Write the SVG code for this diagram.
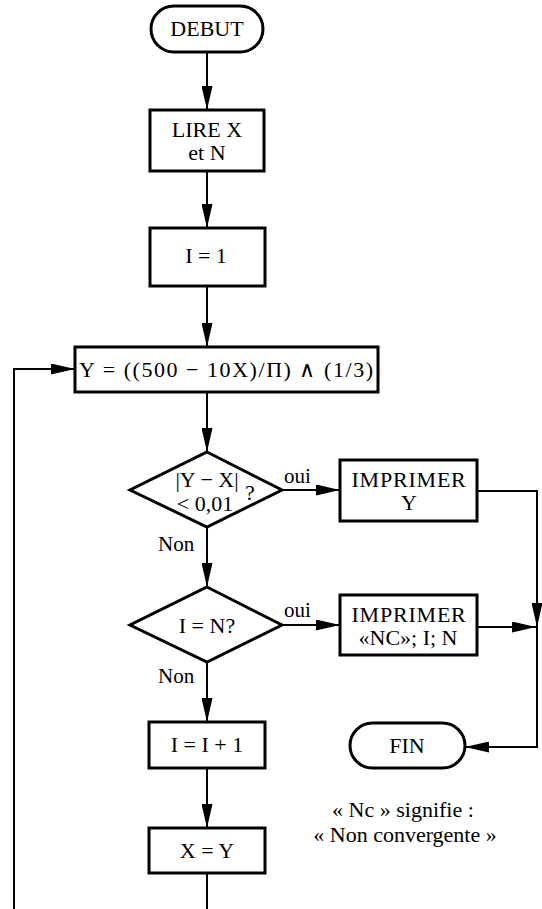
<svg xmlns="http://www.w3.org/2000/svg" width="542" height="909" viewBox="0 0 542 909">
<style>
.n{fill:#fff;stroke:#000;stroke-width:3}
.t{font-family:"Liberation Serif","Times New Roman",serif;font-size:22px;fill:#000;text-anchor:middle}
.s{font-family:"Liberation Serif","Times New Roman",serif;font-size:21px;fill:#000}
.c{fill:none;stroke:#000;stroke-width:2}
</style>
<defs>
<marker id="ah" markerUnits="userSpaceOnUse" markerWidth="24" markerHeight="11" refX="24" refY="5.5" orient="auto">
<path d="M0,0 L24,5.5 L0,11 z" fill="#000"/>
</marker>
</defs>
<rect width="542" height="909" fill="#fff"/>
<g id="connectors">
<path class="c" d="M207,52 V110" marker-end="url(#ah)"/>
<path class="c" d="M207,171 V228" marker-end="url(#ah)"/>
<path class="c" d="M207,286 V347" marker-end="url(#ah)"/>
<path class="c" d="M207,392 V452" marker-end="url(#ah)"/>
<path class="c" d="M282,490 H340" marker-end="url(#ah)"/>
<path class="c" d="M207,527 V587" marker-end="url(#ah)"/>
<path class="c" d="M282,625 H340" marker-end="url(#ah)"/>
<path class="c" d="M207,662 V722" marker-end="url(#ah)"/>
<path class="c" d="M207,768 V828" marker-end="url(#ah)"/>
<path class="c" d="M207,873 V915 H14 V369 H75" marker-end="url(#ah)"/>
<path class="c" d="M477,491 H537 V627" marker-end="url(#ah)"/>
<path class="c" d="M477,627 H536" marker-end="url(#ah)"/>
<path class="c" d="M537,625 V747 H465" marker-end="url(#ah)"/>
<text class="s" x="284" y="483">oui</text>
<text class="s" x="284" y="617">oui</text>
<text class="s" x="158" y="551">Non</text>
<text class="s" x="158" y="683">Non</text>
</g>
<g id="debut">
<rect class="n" x="151" y="6" width="112" height="46" rx="23"/>
<text class="t" x="207" y="36">DEBUT</text>
</g>
<g id="lire">
<rect class="n" x="150" y="110" width="114" height="61"/>
<text class="t" x="207" y="137">LIRE X</text>
<text class="t" x="207" y="160">et N</text>
</g>
<g id="init">
<rect class="n" x="150" y="228" width="115" height="58"/>
<text class="t" x="206" y="263">I = 1</text>
</g>
<g id="calc">
<rect class="n" x="75" y="347" width="303" height="45"/>
<text class="t" x="226" y="377" textLength="294" lengthAdjust="spacing">Y = ((500 − 10X)/Π) ∧ (1/3)</text>
</g>
<g id="test1">
<polygon class="n" points="207,452 282,490 207,527 130,490"/>
<text class="t" x="207" y="487" font-size="19">|Y − X|</text>
<text class="t" x="205" y="511" font-size="19">&lt; 0,01</text>
<text class="t" x="250" y="500" font-size="17">?</text>
</g>
<g id="printY">
<rect class="n" x="340" y="460" width="137" height="61"/>
<text class="t" x="409" y="487" letter-spacing="0.8">IMPRIMER</text>
<text class="t" x="409" y="510">Y</text>
</g>
<g id="test2">
<polygon class="n" points="207,587 282,625 207,662 130,625"/>
<text class="t" x="207" y="633">I = N?</text>
</g>
<g id="printNC">
<rect class="n" x="340" y="595" width="137" height="60"/>
<text class="t" x="409" y="622" letter-spacing="0.8">IMPRIMER</text>
<text class="t" x="408" y="645">«NC»; I; N</text>
</g>
<g id="incr">
<rect class="n" x="149" y="722" width="116" height="46"/>
<text class="t" x="207" y="752">I = I + 1</text>
</g>
<g id="assign">
<rect class="n" x="149" y="828" width="116" height="45"/>
<text class="t" x="207" y="858">X = Y</text>
</g>
<g id="fin">
<rect class="n" x="350" y="723" width="115" height="45" rx="22.5"/>
<text class="t" x="407" y="753">FIN</text>
</g>
<g id="note">
<text class="t" x="403" y="817">« Nc » signifie :</text>
<text class="t" x="405" y="842">« Non convergente »</text>
</g>
</svg>
